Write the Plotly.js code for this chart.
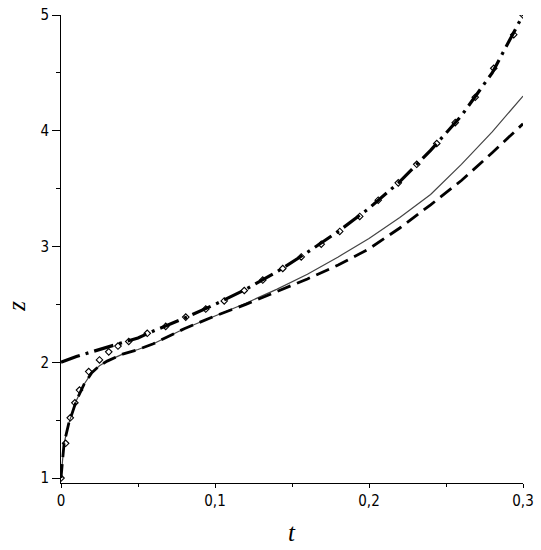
<!DOCTYPE html>
<html>
<head>
<meta charset="utf-8">
<script src="https://cdn.plot.ly/plotly-3.0.1.min.js"></script>
<style>
  html, body { margin: 0; padding: 0; background: #fff; }
  #chart { width: 541px; height: 550px; }
</style>
</head>
<body>
<div id="chart"></div>
<script>
// solid thin curve
var tSolid = [0, 0.002, 0.005, 0.01, 0.015, 0.02, 0.025, 0.03, 0.04, 0.05, 0.06, 0.08, 0.10, 0.12, 0.14, 0.16, 0.18, 0.20, 0.22, 0.24, 0.26, 0.28, 0.30];
var zSolid = [1.00, 1.30, 1.47, 1.67, 1.81, 1.91, 1.97, 2.01, 2.07, 2.11, 2.16, 2.29, 2.40, 2.51, 2.63, 2.76, 2.91, 3.07, 3.25, 3.45, 3.71, 3.99, 4.30];

// dashed curve
var tDash = [0, 0.002, 0.005, 0.01, 0.015, 0.02, 0.025, 0.03, 0.04, 0.05, 0.06, 0.08, 0.10, 0.12, 0.14, 0.16, 0.18, 0.20, 0.22, 0.24, 0.26, 0.28, 0.30];
var zDash = [1.00, 1.30, 1.47, 1.67, 1.81, 1.91, 1.97, 2.01, 2.07, 2.11, 2.16, 2.29, 2.40, 2.50, 2.61, 2.72, 2.84, 2.98, 3.16, 3.36, 3.57, 3.81, 4.06];

// dash-dot curve
var tDashDot = [0, 0.01, 0.02, 0.03, 0.04, 0.05, 0.06, 0.08, 0.10, 0.12, 0.14, 0.16, 0.18, 0.20, 0.22, 0.24, 0.26, 0.28, 0.30];
var zDashDot = [2.00, 2.05, 2.09, 2.13, 2.17, 2.21, 2.27, 2.38, 2.50, 2.63, 2.78, 2.95, 3.13, 3.33, 3.56, 3.83, 4.13, 4.50, 5.00];

// open diamonds
var tDiam = [0, 0.003, 0.006, 0.009, 0.012, 0.018, 0.025, 0.031, 0.037, 0.044, 0.056, 0.068, 0.081, 0.094, 0.106, 0.119, 0.131, 0.144, 0.156, 0.169, 0.181, 0.194, 0.206, 0.219, 0.231, 0.244, 0.256, 0.269, 0.281, 0.294, 0.300];
var zDiam = [1.00, 1.30, 1.52, 1.65, 1.76, 1.92, 2.02, 2.09, 2.14, 2.18, 2.25, 2.31, 2.39, 2.46, 2.53, 2.62, 2.71, 2.81, 2.91, 3.02, 3.13, 3.26, 3.40, 3.55, 3.71, 3.89, 4.07, 4.29, 4.54, 4.83, 5.00];

var xTicks = [0, 0.1, 0.2, 0.3];
var xTickText = ['0', '0,1', '0,2', '0,3'];
var yTicks = [1, 2, 3, 4, 5];

var traces = [
  { x: tSolid, y: zSolid, mode: 'lines', type: 'scatter',
    line: { color: '#444', width: 1.2 } },
  { x: tDash, y: zDash, mode: 'lines', type: 'scatter',
    line: { color: '#000', width: 2.8, dash: '14px,7px' } },
  { x: tDashDot, y: zDashDot, mode: 'lines', type: 'scatter',
    line: { color: '#000', width: 3.2, dash: '20px,6px,3px,6px' } },
  { x: tDiam, y: zDiam, mode: 'markers', type: 'scatter',
    marker: { symbol: 'diamond-open', size: 5, color: '#000', line: { width: 1.1, color: '#000' } } }
];

var tickFont = { family: 'DejaVu Sans Condensed, DejaVu Sans, sans-serif', size: 15, color: '#000' };

var layout = {
  width: 541, height: 550,
  margin: { l: 61, r: 18, t: 15, b: 67 },
  paper_bgcolor: '#fff', plot_bgcolor: '#fff',
  showlegend: false,
  separators: ',.',
  xaxis: {
    range: [0, 0.3],
    tickvals: xTicks, ticktext: xTickText,
    ticks: 'outside', ticklen: 4, tickwidth: 1, tickcolor: '#000',
    minor: { dtick: 0.05, tick0: 0, ticks: 'outside', ticklen: 3, tickcolor: '#000' },
    showline: true, linecolor: '#000', linewidth: 1,
    showgrid: false, zeroline: false,
    tickfont: tickFont
  },
  yaxis: {
    range: [0.957, 5],
    tickvals: yTicks,
    ticks: 'outside', ticklen: 8, tickwidth: 1, tickcolor: '#000',
    minor: { dtick: 0.5, tick0: 0, ticks: 'outside', ticklen: 4, tickcolor: '#000' },
    showline: true, linecolor: '#000', linewidth: 1,
    showgrid: false, zeroline: false,
    tickfont: tickFont
  },
  annotations: [
    { text: '<i>t</i>', xref: 'x', yref: 'paper', x: 0.15, y: -0.105,
      xanchor: 'center', yanchor: 'middle', showarrow: false,
      font: { family: 'Liberation Serif, serif', size: 25, color: '#000' } },
    { text: '<i>z</i>', xref: 'paper', yref: 'y', x: -0.095, y: 2.48,
      xanchor: 'center', yanchor: 'middle', showarrow: false, textangle: -90,
      font: { family: 'Liberation Serif, serif', size: 25, color: '#000' } }
  ]
};

Plotly.newPlot('chart', traces, layout, { displayModeBar: false, staticPlot: true });
</script>
</body>
</html>
